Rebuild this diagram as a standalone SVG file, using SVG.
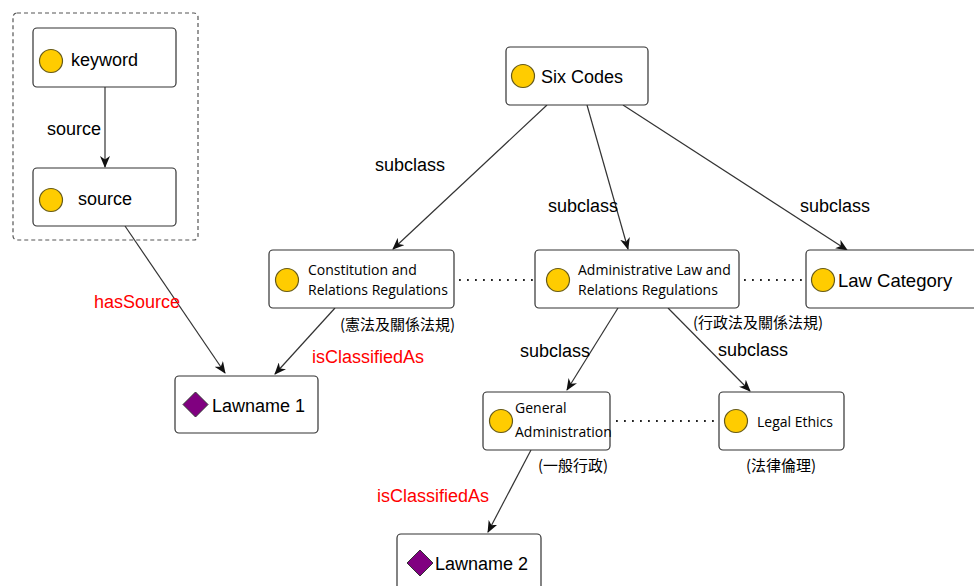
<svg xmlns="http://www.w3.org/2000/svg" width="974" height="586" viewBox="0 0 974 586">
<defs>
<marker id="arr" viewBox="0 0 12 10" refX="11" refY="5" markerWidth="12" markerHeight="10" markerUnits="userSpaceOnUse" orient="auto">
<path d="M0,0 L12,5 L0,10 L3.5,5 z" fill="#111"/>
</marker>
<style>
.box{fill:#fff;stroke:#333;stroke-width:1.2}
.grp{fill:none;stroke:#555;stroke-width:1.2;stroke-dasharray:4 3}
.dot{fill:#ffcc00;stroke:#665a1a;stroke-width:1.2}
.dia{fill:#800080;stroke:#333;stroke-width:1}
.edge{fill:none;stroke:#333;stroke-width:1.2;marker-end:url(#arr)}
.dotted{fill:none;stroke:#222;stroke-width:1.8;stroke-dasharray:1.8 6.2}
.big{font-family:"Liberation Sans",Arial,sans-serif;font-size:18px;fill:#000}
.lbl{font-family:"Liberation Sans",Arial,sans-serif;font-size:18px;fill:#000}
.red{font-family:"Liberation Sans",Arial,sans-serif;font-size:18px;fill:#ff0000}
.sm{font-family:"Open Sans","Noto Sans",sans-serif;font-size:14px;fill:#000}
.cjk{font-family:"Noto Sans CJK TC","Noto Sans",sans-serif;font-size:15px;fill:#000}
</style>
</defs>
<rect class="grp" x="13" y="13" width="185" height="227" rx="4"/>
<g id="connectors">
<path class="edge" d="M105,87 L105,167"/>
<path class="edge" d="M125,226 L225,373"/>
<path class="edge" d="M547,105 L393,249"/>
<path class="edge" d="M587,105 L628,249"/>
<path class="edge" d="M623,105 L847,250"/>
<path class="edge" d="M335,308 L275,374"/>
<path class="edge" d="M618,308 L567,390"/>
<path class="edge" d="M668,308 L750,391"/>
<path class="edge" d="M531,450 L488,532"/>
<path class="dotted" d="M459,280 L535,280"/>
<path class="dotted" d="M744,280 L806,280"/>
<path class="dotted" d="M616,421 L719,421"/>
</g>
<g id="edge-labels">
<text class="lbl" x="47" y="135">source</text>
<text class="lbl" x="375" y="171">subclass</text>
<text class="lbl" x="548" y="212">subclass</text>
<text class="lbl" x="800" y="212">subclass</text>
<text class="lbl" x="520" y="357">subclass</text>
<text class="lbl" x="718" y="356">subclass</text>
<text class="red" x="94" y="308">hasSource</text>
<text class="red" x="312" y="363">isClassifiedAs</text>
<text class="red" x="377" y="502">isClassifiedAs</text>
</g>
<g id="keyword">
<rect class="box" x="33" y="28" width="143" height="59" rx="4"/>
<circle class="dot" cx="51" cy="61" r="11.5"/>
<text class="big" x="71" y="66">keyword</text>
</g>
<g id="source">
<rect class="box" x="33" y="168" width="143" height="58" rx="4"/>
<circle class="dot" cx="51" cy="200" r="11.5"/>
<text class="big" x="78" y="205">source</text>
</g>
<g id="six-codes">
<rect class="box" x="506" y="47" width="142" height="58" rx="4"/>
<circle class="dot" cx="523" cy="76" r="11.5"/>
<text class="big" x="541" y="83">Six Codes</text>
</g>
<g id="constitution">
<rect class="box" x="269" y="250" width="185" height="58" rx="4"/>
<circle class="dot" cx="287" cy="280" r="11.5"/>
<text class="sm" x="308" y="275">Constitution and</text>
<text class="sm" x="308" y="295">Relations Regulations</text>
<text class="cjk" x="340" y="330">(憲法及關係法規)</text>
</g>
<g id="administrative">
<rect class="box" x="535" y="250" width="204" height="58" rx="4"/>
<circle class="dot" cx="558" cy="280" r="11.5"/>
<text class="sm" x="578" y="275">Administrative Law and</text>
<text class="sm" x="578" y="295">Relations Regulations</text>
<text class="cjk" x="693" y="328">(行政法及關係法規)</text>
</g>
<g id="law-category">
<rect class="box" x="806" y="250" width="180" height="58" rx="4"/>
<circle class="dot" cx="823" cy="280" r="11.5"/>
<text class="big" x="838" y="287" style="font-size:18.5px">Law Category</text>
</g>
<g id="lawname-1">
<rect class="box" x="175" y="376" width="143" height="57" rx="4"/>
<polygon class="dia" points="195.5,392 208,404.5 195.5,417 183,404.5"/>
<text class="big" x="212" y="412">Lawname 1</text>
</g>
<g id="general-administration">
<rect class="box" x="483" y="392" width="127" height="58" rx="4"/>
<circle class="dot" cx="501" cy="421" r="11.5"/>
<text class="sm" x="515" y="413">General</text>
<text class="sm" x="515" y="437">Administration</text>
<text class="cjk" x="538" y="471">(一般行政)</text>
</g>
<g id="legal-ethics">
<rect class="box" x="719" y="392" width="125" height="58" rx="4"/>
<circle class="dot" cx="736" cy="421" r="11.5"/>
<text class="sm" x="757" y="427">Legal Ethics</text>
<text class="cjk" x="746" y="471">(法律倫理)</text>
</g>
<g id="lawname-2">
<rect class="box" x="397" y="534" width="144" height="60" rx="4"/>
<polygon class="dia" points="420,550 433,563 420,576 407,563"/>
<text class="big" x="435" y="570">Lawname 2</text>
</g>
</svg>
